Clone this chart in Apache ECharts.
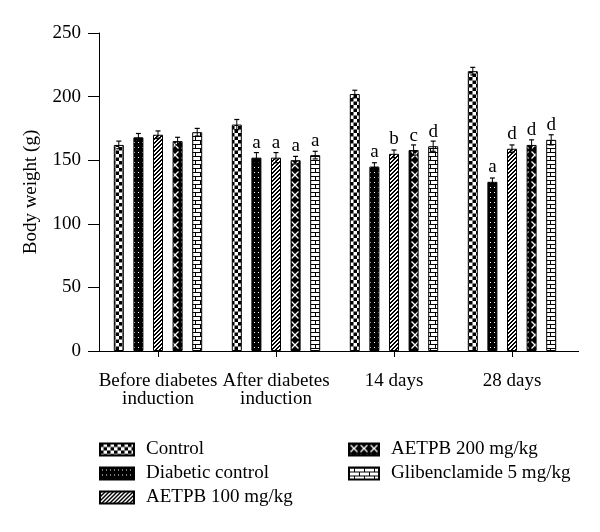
<!DOCTYPE html>
<html>
<head>
<meta charset="utf-8">
<script src="https://cdn.jsdelivr.net/npm/echarts@6/dist/echarts.min.js"></script>
<style>html,body{margin:0;padding:0;background:#fff}#c{width:600px;height:532px}</style>
</head>
<body>
<div id="c"></div>
<script>
var categories = ['Before diabetes\ninduction', 'After diabetes\ninduction', '14 days', '28 days'];
var seriesNames = ['Control', 'Diabetic control', 'AETPB 100 mg/kg', 'AETPB 200 mg/kg', 'Glibenclamide 5 mg/kg'];
var control = [162, 178, 202, 220];
var diabetic = [168, 152, 145, 133];
var aetpb100 = [170, 152, 155, 159];
var aetpb200 = [165, 150, 158, 162];
var glib = [172, 154, 161, 166];
var errControl = [3, 4, 3, 3];
var errDiabetic = [3, 4, 3, 3];
var errAetpb100 = [3, 4, 3, 3];
var errAetpb200 = [3, 3, 4, 4];
var errGlib = [3, 3, 4, 4];
var lettersControl = ['', '', '', ''];
var lettersDiabetic = ['', 'a', 'a', 'a'];
var lettersAetpb100 = ['', 'a', 'b', 'd'];
var lettersAetpb200 = ['', 'a', 'c', 'd'];
var lettersGlib = ['', 'a', 'd', 'd'];
var yTicks = [0, 50, 100, 150, 200, 250];

var values = [control, diabetic, aetpb100, aetpb200, glib];
var errs = [errControl, errDiabetic, errAetpb100, errAetpb200, errGlib];
var letters = [lettersControl, lettersDiabetic, lettersAetpb100, lettersAetpb200, lettersGlib];

function mk(w, h, fn) {
  var c = document.createElement('canvas'); c.width = w; c.height = h;
  var ctx = c.getContext('2d'); fn(ctx, w, h); return c;
}
var patChecker = mk(7, 7, function (g) {
  g.fillStyle = '#fff'; g.fillRect(0, 0, 7, 7);
  g.fillStyle = '#000'; g.fillRect(0, 0, 3.5, 3.5); g.fillRect(3.5, 3.5, 3.5, 3.5);
});
var patDots = mk(4, 5, function (g) {
  g.fillStyle = '#000'; g.fillRect(0, 0, 4, 5);
  g.fillStyle = '#fff'; g.fillRect(2, 2, 1, 1);
});
var patDiag = mk(4, 4, function (g) {
  var d = g.createImageData(4, 4);
  for (var y = 0; y < 4; y++) for (var x = 0; x < 4; x++) {
    var i = (y * 4 + x) * 4; var v = ((x + y) % 4) < 2 ? 0 : 255;
    d.data[i] = v; d.data[i + 1] = v; d.data[i + 2] = v; d.data[i + 3] = 255;
  }
  g.putImageData(d, 0, 0);
});
var patX = mk(10, 10, function (g) {
  g.fillStyle = '#000'; g.fillRect(0, 0, 10, 10);
  g.strokeStyle = '#fff'; g.lineWidth = 1.3;
  g.beginPath(); g.moveTo(1.5, 1.5); g.lineTo(8.5, 8.5); g.moveTo(8.5, 1.5); g.lineTo(1.5, 8.5); g.stroke();
});
var patBrick = mk(10, 8, function (g) {
  g.fillStyle = '#fff'; g.fillRect(0, 0, 10, 8);
  g.fillStyle = '#000';
  g.fillRect(0, 0, 10, 1); g.fillRect(0, 4, 10, 1);
  g.fillRect(5, 0, 1, 4); g.fillRect(0, 4, 1, 4);
});
var patterns = [patChecker, patDots, patDiag, patX, patBrick];

var FONT = 'Liberation Serif';
var FS = 19;
var BAR_W = 10, BAR_GAP = 0.96;
var step = BAR_W * (1 + BAR_GAP);

var series = [];
for (var s = 0; s < 5; s++) {
  (function (s) {
    series.push({
      name: seriesNames[s], type: 'bar', data: values[s],
      barWidth: BAR_W, barGap: (BAR_GAP * 100) + '%',
      itemStyle: { color: { image: patterns[s], repeat: 'repeat' }, borderColor: '#000', borderWidth: 1 },
      label: {
        show: true, position: 'top', distance: 5, color: '#000',
        fontFamily: FONT, fontSize: FS,
        formatter: function (p) { return letters[s][p.dataIndex]; }
      },
      emphasis: { disabled: true }, z: 2
    });
  })(s);
}
var errData = [];
for (var s2 = 0; s2 < 5; s2++) for (var k = 0; k < categories.length; k++) errData.push([k, values[s2][k], errs[s2][k], s2]);
series.push({
  type: 'custom', name: 'err', data: errData, z: 3, silent: true,
  renderItem: function (params, api) {
    var k = api.value(0), v = api.value(1), e = api.value(2), si = api.value(3);
    var p0 = api.coord([k, v - e]), p1 = api.coord([k, v + e]);
    var x = p0[0] + (si - 2) * step;
    var cap = 2.5;
    return {
      type: 'group', children: [
        { type: 'line', shape: { x1: x, y1: p0[1], x2: x, y2: p1[1] }, style: { stroke: '#000', lineWidth: 1 } },
        { type: 'line', shape: { x1: x - cap, y1: p1[1], x2: x + cap, y2: p1[1] }, style: { stroke: '#000', lineWidth: 1.2 } },
        { type: 'line', shape: { x1: x - cap, y1: p0[1], x2: x + cap, y2: p0[1] }, style: { stroke: '#000', lineWidth: 1.2 } }
      ]
    };
  }
});

var chart = echarts.init(document.getElementById('c'), null, { renderer: 'canvas' });
var legendText = { fontFamily: FONT, fontSize: FS, color: '#000', lineHeight: 18, padding: [0, 0, 0, 7] };
chart.setOption({
  animation: false,
  backgroundColor: '#fff',
  grid: { left: 99, top: 33, right: 29, bottom: 181, containLabel: false },
  xAxis: {
    type: 'category', data: categories,
    axisLine: { lineStyle: { color: '#000', width: 1 } },
    axisTick: { show: true, alignWithLabel: true, length: 6, lineStyle: { color: '#000' } },
    axisLabel: { color: '#000', fontFamily: FONT, fontSize: FS, lineHeight: 18, margin: 21, interval: 0 }
  },
  yAxis: {
    type: 'value', min: yTicks[0], max: yTicks[yTicks.length - 1], interval: 50,
    name: 'Body weight (g)', nameLocation: 'middle', nameGap: 58, nameRotate: 90,
    nameTextStyle: { color: '#000', fontFamily: FONT, fontSize: FS },
    axisLine: { show: true, lineStyle: { color: '#000', width: 1 } },
    axisTick: { show: true, length: 11, lineStyle: { color: '#000' } },
    axisLabel: { color: '#000', fontFamily: FONT, fontSize: FS, margin: 18 },
    splitLine: { show: false }
  },
  legend: [
    { orient: 'vertical', left: 94, top: 435, itemWidth: 34, itemHeight: 12, itemGap: 5,
      data: seriesNames.slice(0, 3), textStyle: legendText, icon: 'rect', selectedMode: false },
    { orient: 'vertical', left: 343, top: 435, itemWidth: 30, itemHeight: 12, itemGap: 5,
      data: seriesNames.slice(3), textStyle: legendText, icon: 'rect', selectedMode: false }
  ],
  graphic: [{ type: 'line', shape: { x1: 571, y1: 351.5, x2: 579, y2: 351.5 }, style: { stroke: '#000', lineWidth: 1 } }],
  series: series
});
</script>
</body>
</html>
